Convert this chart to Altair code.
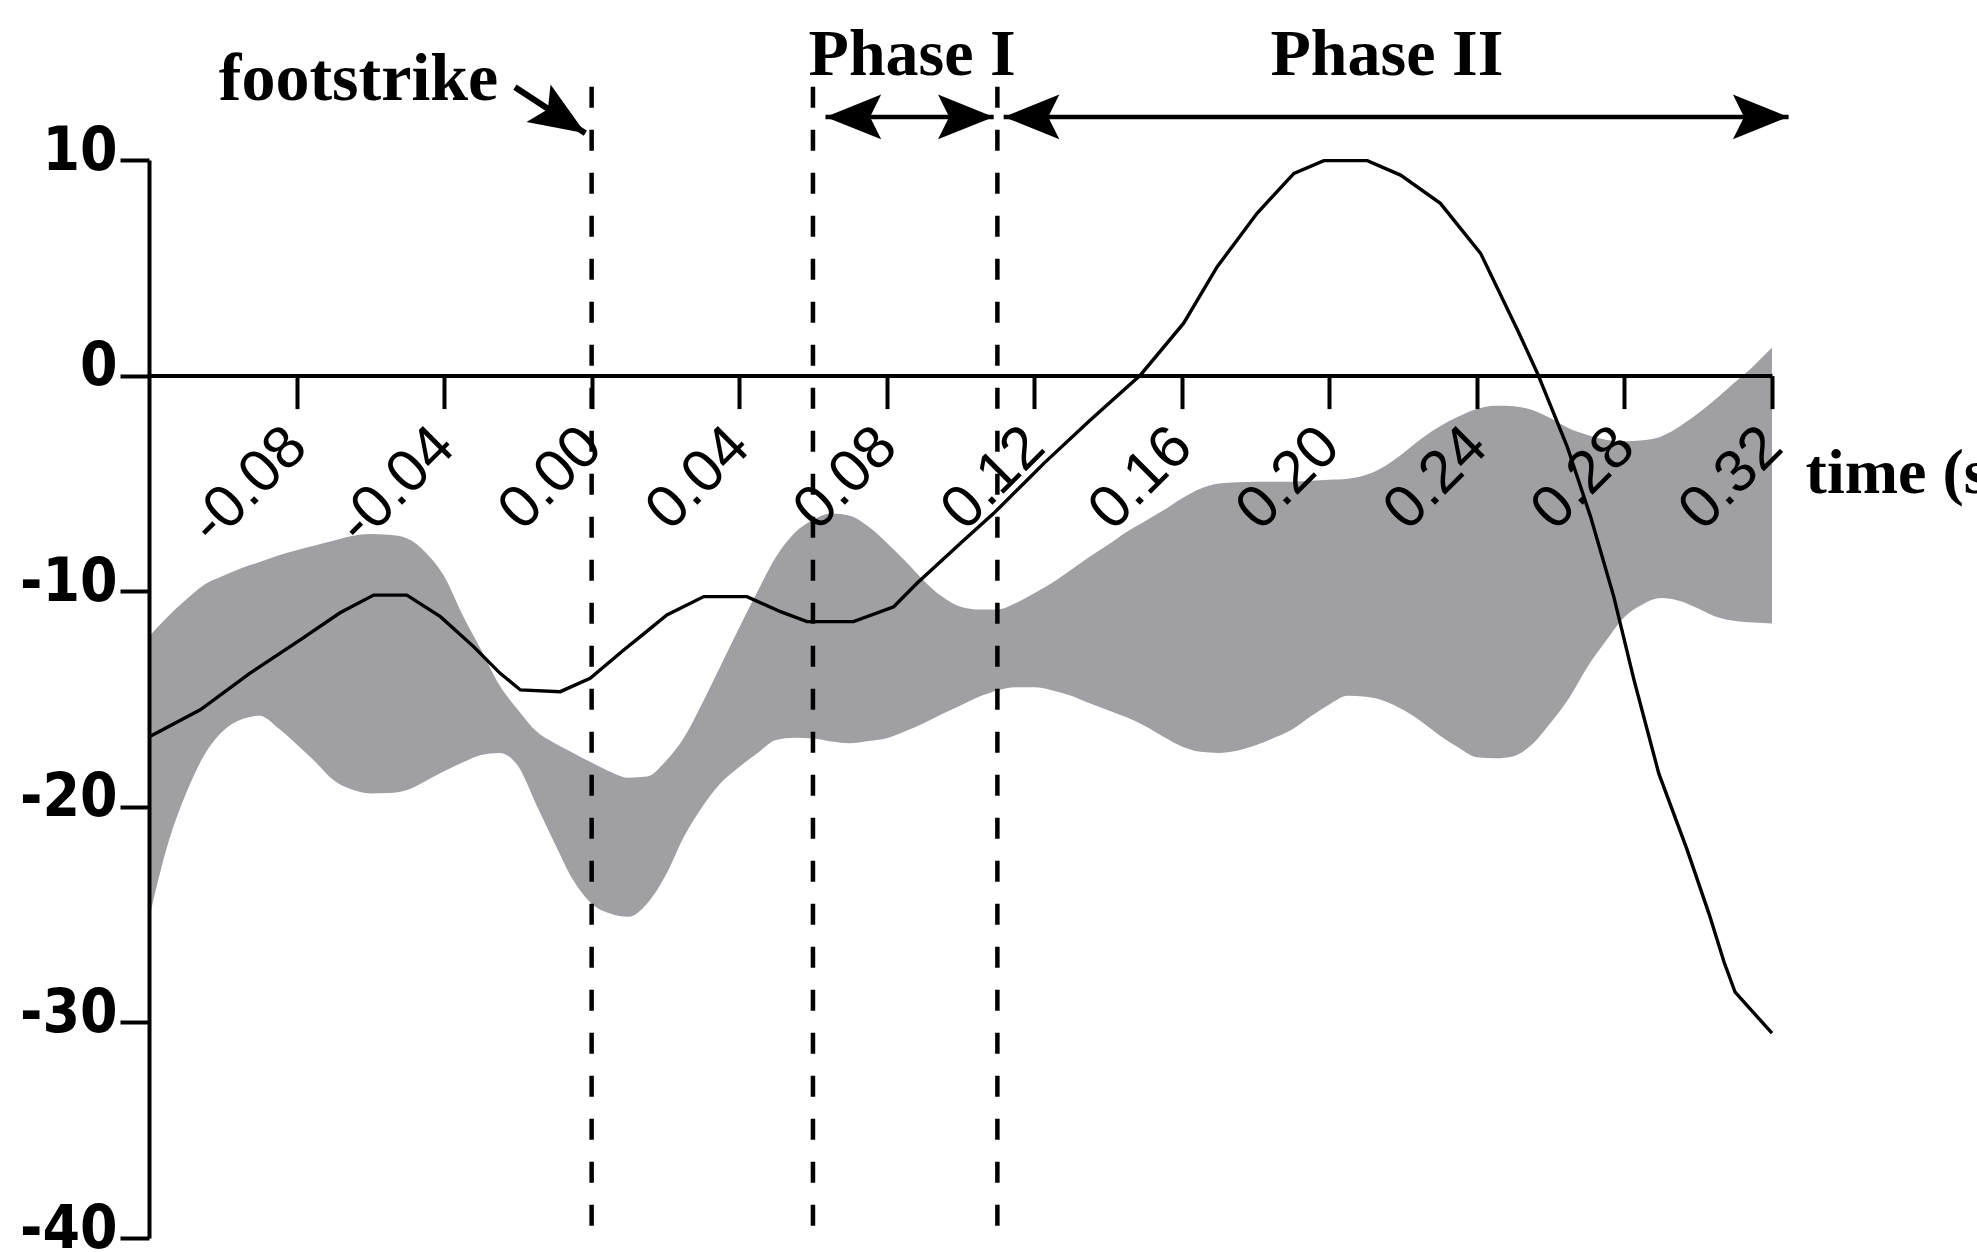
import altair as alt
import pandas as pd

# ---- shaded corridor (upper / lower bounds) sampled on a common time grid ----
band_t = [
    -0.120, -0.115, -0.110, -0.105, -0.100, -0.095, -0.090, -0.085, -0.080, -0.075,
    -0.070, -0.065, -0.060, -0.055, -0.050, -0.045, -0.040, -0.035, -0.030, -0.025,
    -0.020, -0.015, -0.010, -0.005, 0.000, 0.005, 0.010, 0.015, 0.020, 0.025,
    0.030, 0.035, 0.040, 0.045, 0.050, 0.055, 0.060, 0.065, 0.070, 0.075,
    0.080, 0.085, 0.090, 0.095, 0.100, 0.105, 0.110, 0.115, 0.120, 0.125,
    0.130, 0.135, 0.140, 0.145, 0.150, 0.155, 0.160, 0.165, 0.170, 0.175,
    0.180, 0.185, 0.190, 0.195, 0.200, 0.205, 0.210, 0.215, 0.220, 0.225,
    0.230, 0.235, 0.240, 0.245, 0.250, 0.255, 0.260, 0.265, 0.270, 0.275,
    0.280, 0.285, 0.290, 0.295, 0.300, 0.305, 0.310, 0.315, 0.320,
]
band_upper = [
    -12.1, -11.2, -10.4, -9.7, -9.3, -8.93, -8.65, -8.34, -8.1, -7.88,
    -7.66, -7.44, -7.35, -7.38, -7.55, -8.2, -9.3, -11.1, -12.7, -14.35,
    -15.5, -16.5, -17.05, -17.5, -17.95, -18.37, -18.65, -18.6, -17.9, -16.8,
    -15.2, -13.45, -11.7, -10.0, -8.4, -7.3, -6.7, -6.4, -6.5, -7.0,
    -7.75, -8.6, -9.5, -10.25, -10.72, -10.85, -10.85, -10.55, -10.1, -9.6,
    -9.0, -8.4, -7.85, -7.25, -6.75, -6.25, -5.7, -5.25, -5.0, -4.95,
    -4.92, -4.92, -4.92, -4.88, -4.83, -4.78, -4.6, -4.2, -3.6, -2.92,
    -2.35, -1.9, -1.55, -1.4, -1.42, -1.6, -1.98, -2.45, -2.75, -2.97,
    -3.05, -3.0, -2.82, -2.35, -1.75, -1.05, -0.3, 0.45, 1.3,
]
band_lower = [
    -25.2, -21.8, -19.4, -17.6, -16.5, -15.95, -15.78, -16.35, -17.1, -17.9,
    -18.76, -19.2, -19.38, -19.36, -19.22, -18.8, -18.35, -17.95, -17.6, -17.5,
    -18.1, -19.9, -21.7, -23.4, -24.5, -24.95, -25.1, -24.5, -23.2, -21.4,
    -20.0, -18.9, -18.15, -17.5, -16.9, -16.8, -16.83, -16.97, -17.05, -16.95,
    -16.82, -16.5, -16.13, -15.7, -15.3, -14.9, -14.6, -14.45, -14.45, -14.6,
    -14.85, -15.2, -15.52, -15.85, -16.25, -16.75, -17.2, -17.45, -17.5, -17.4,
    -17.15, -16.8, -16.4, -15.8, -15.25, -14.85, -14.9, -15.1, -15.5, -16.05,
    -16.7, -17.25, -17.7, -17.75, -17.65, -17.1, -16.1, -14.95, -13.5, -12.3,
    -11.2, -10.6, -10.32, -10.45, -10.8, -11.2, -11.38, -11.45, -11.5,
]

# ---- mean curve ----
mean_t = [
    -0.1200, -0.1190, -0.1061, -0.0926, -0.0790, -0.0682, -0.0591, -0.0501,
    -0.0410, -0.0320, -0.0248, -0.0193, -0.0085, -0.0004, 0.0087, 0.0132,
    0.0204, 0.0304, 0.0421, 0.0512, 0.0584, 0.0710, 0.0819, 0.0882,
    0.1000, 0.1090, 0.1181, 0.1226, 0.1352, 0.1488, 0.1605, 0.1696,
    0.1804, 0.1904, 0.1985, 0.2103, 0.2193, 0.2301, 0.2410, 0.2512,
    0.2564, 0.2645, 0.2708, 0.2771, 0.2826, 0.2893, 0.2970, 0.3030,
    0.3070, 0.3100, 0.3200,
]
mean_v = [
    -16.75, -16.67, -15.5, -13.8, -12.26, -11.0, -10.18, -10.18,
    -11.18, -12.57, -13.81, -14.58, -14.66, -14.04, -12.73, -12.11,
    -11.1, -10.25, -10.25, -10.95, -11.41, -11.41, -10.72, -9.63,
    -7.78, -6.39, -4.84, -4.07, -2.06, 0.03, 2.43, 5.05,
    7.53, 9.38, 9.97, 9.97, 9.30, 7.99, 5.67, 2.05,
    0.11, -3.30, -6.54, -10.25, -14.12, -18.45, -22.0, -25.0,
    -27.2, -28.6, -30.5,
]

# ---- event markers and phase annotations ----
event_t = [0.0, 0.060, 0.110]
event_top = [13.4, 13.4, 13.4]
event_bottom = [-39.6, -39.6, -39.6]

phase_start = [0.0634, 0.1117]
phase_end = [0.1090, 0.3245]
phase_level = 12.0
phase_names = ["Phase I", "Phase II"]
phase_label_t = [0.0869, 0.2156]
phase_label_v = 13.94

foot_tail = (-0.0208, 13.38)
foot_tip = (-0.0017, 11.24)
foot_label = (-0.0253, 12.78)

axis_label = "time (s)"
axis_label_pos = (0.3291, -5.45)

x_ticks = [-0.08, -0.04, 0.0, 0.04, 0.08, 0.12, 0.16, 0.20, 0.24, 0.28, 0.32]
y_ticks = [-40, -30, -20, -10, 0, 10]

# ---- tables ----
band_df = pd.DataFrame({"t": band_t, "v": band_lower, "v2": band_upper})
mean_df = pd.DataFrame({"t": mean_t, "v": mean_v})
event_df = pd.DataFrame({"t": event_t, "v": event_top, "v2": event_bottom})
shaft_df = pd.DataFrame({
    "t": phase_start, "t2": phase_end,
    "v": [phase_level, phase_level], "v2": [phase_level, phase_level],
})
foot_shaft_df = pd.DataFrame({
    "t": [foot_tail[0]], "t2": [foot_tip[0]], "v": [foot_tail[1]], "v2": [foot_tip[1]],
})
head_df = pd.DataFrame({
    "t": [phase_start[0], phase_end[0], phase_start[1], phase_end[1], foot_tip[0]],
    "v": [phase_level] * 4 + [foot_tip[1]],
    "ang": [0, 180, 0, 180, 212.7],
})
phase_df = pd.DataFrame({"t": phase_label_t, "v": [phase_label_v] * 2, "label": phase_names})
foot_df = pd.DataFrame({"t": [foot_label[0]], "v": [foot_label[1]], "label": ["footstrike"]})
time_df = pd.DataFrame({"t": [axis_label_pos[0]], "v": [axis_label_pos[1]], "label": [axis_label]})

# ---- shared scales / axes ----
W, H = 1623, 1078
x_scale = alt.Scale(domain=[-0.12, 0.32], nice=False, zero=False)
y_scale = alt.Scale(domain=[-40, 10], nice=False, zero=False)
zero_px = H * (10 - 0) / 50.0

x_axis = alt.Axis(
    values=x_ticks,
    labelExpr="(datum.value < 0 ? '-' : '') + format(abs(datum.value), '.2f')",
    labelAngle=-45, labelAlign="right", labelBaseline="middle",
    labelPadding=28, labelFont="Liberation Sans", labelFontSize=60,
    labelColor="black", labelOverlap=False, labelFlush=False,
    tickSize=33, tickWidth=4, tickColor="black",
    domainWidth=4, domainColor="black",
    offset=-(H - zero_px), grid=False, title=None, zindex=1,
)
y_axis = alt.Axis(
    values=y_ticks,
    labelExpr="(datum.value < 0 ? '-' : '') + format(abs(datum.value), 'd')",
    labelFont="Liberation Sans Narrow, DejaVu Sans Condensed, Liberation Sans",
    labelFontWeight="bold", labelFontSize=60, labelColor="black",
    labelPadding=3, labelBaseline="alphabetic", labelOffset=9,
    labelOverlap=False, labelFlush=False,
    tickSize=29, tickWidth=4, tickColor="black",
    domainWidth=4, domainColor="black", grid=False, title=None, zindex=1,
)


def X(field="t"):
    return alt.X(f"{field}:Q", scale=x_scale, axis=x_axis)


def Y(field="v"):
    return alt.Y(f"{field}:Q", scale=y_scale, axis=y_axis)


band = alt.Chart(band_df).mark_area(color="#a09fa4", opacity=1, interpolate="monotone").encode(
    x=X(), y=Y(), y2="v2:Q"
)
mean = alt.Chart(mean_df).mark_line(color="black", strokeWidth=3.4).encode(x=X(), y=Y())
events = alt.Chart(event_df).mark_rule(color="black", strokeWidth=4.5, strokeDash=[21, 22]).encode(
    x=X(), y=Y(), y2="v2:Q"
)
shafts = alt.Chart(shaft_df).mark_rule(color="black", strokeWidth=4.5).encode(
    x=X(), x2="t2:Q", y=Y(), y2="v2:Q"
)
foot_shaft = alt.Chart(foot_shaft_df).mark_rule(color="black", strokeWidth=6).encode(
    x=X(), x2="t2:Q", y=Y(), y2="v2:Q"
)
# notched arrowhead, tip at the symbol origin, pointing left before rotation
heads = alt.Chart(head_df).mark_point(
    shape="M 0 0 L 2 -0.8 L 1.6 0 L 2 0.8 Z",
    filled=True, fill="black", color="black", opacity=1, size=3100, strokeWidth=0,
).encode(x=X(), y=Y(), angle=alt.Angle("ang:Q", scale=None))

serif = "Liberation Serif, DejaVu Serif"
phase_text = alt.Chart(phase_df).mark_text(
    font=serif, fontWeight="bold", fontSize=66, align="center", baseline="alphabetic", color="black"
).encode(x=X(), y=Y(), text="label:N")
foot_text = alt.Chart(foot_df).mark_text(
    font=serif, fontWeight="bold", fontSize=68, align="right", baseline="alphabetic", color="black"
).encode(x=X(), y=Y(), text="label:N")
time_text = alt.Chart(time_df).mark_text(
    font=serif, fontWeight="bold", fontSize=64, align="left", baseline="alphabetic", color="black"
).encode(x=X(), y=Y(), text="label:N")

chart = alt.layer(
    band, mean, events, shafts, foot_shaft, heads, phase_text, foot_text, time_text
).properties(
    width=W, height=H,
    autosize=alt.AutoSizeParams(type="none"),
    padding={"left": 149, "top": 160, "right": 205, "bottom": 14},
    background="white",
).configure_view(stroke=None)

chart.save("out.html", embed_options={"renderer": "svg", "actions": False})
